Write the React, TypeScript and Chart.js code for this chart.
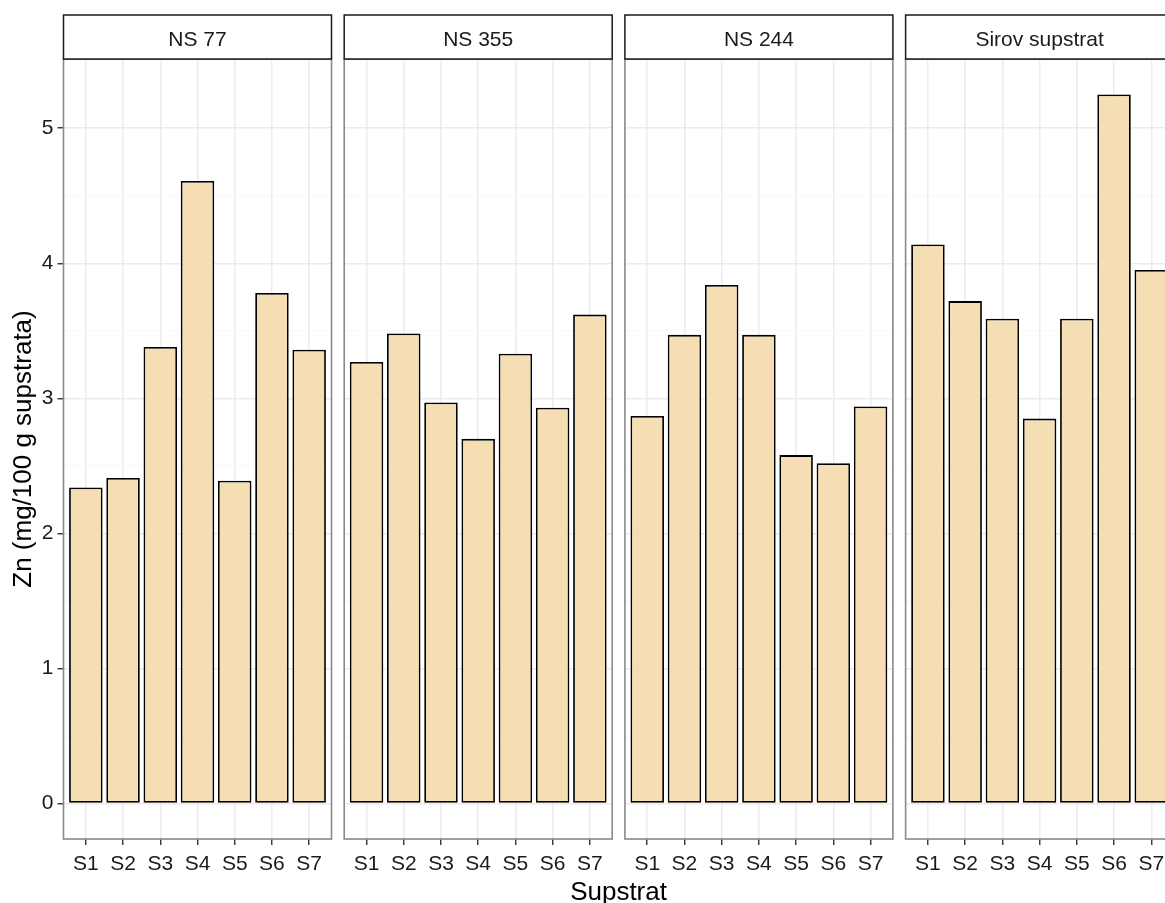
import React, { useEffect, useRef } from "react";
import { Chart, registerables } from "chart.js";

Chart.register(...registerables);

// ---------- data ----------
const categories = ["S1", "S2", "S3", "S4", "S5", "S6", "S7"];
const panelTitles = ["NS 77", "NS 355", "NS 244", "Sirov supstrat"];
const ns77 = [2.34, 2.41, 3.38, 4.61, 2.39, 3.78, 3.36];
const ns355 = [3.27, 3.48, 2.97, 2.7, 3.33, 2.93, 3.62];
const ns244 = [2.87, 3.47, 3.84, 3.47, 2.58, 2.52, 2.94];
const sirovSupstrat = [4.14, 3.72, 3.59, 2.85, 3.59, 5.25, 3.95];
const yMajorTicks = [0, 1, 2, 3, 4, 5];
const yMinorTicks = [0.5, 1.5, 2.5, 3.5, 4.5, 5.5];
const yTitle = "Zn (mg/100 g supstrata)";
const xTitle = "Supstrat";

const panelValues = [ns77, ns355, ns244, sirovSupstrat];

// ---------- layout / style ----------
const W = 1165;
const H = 903;
const FONT = "'Liberation Sans', Arial, Helvetica, sans-serif";
const PANEL_LEFT0 = 63.5;
const PANEL_STEP = 280.7;
const PANEL_W = 268;
const PANEL_TOP = 59;
const PANEL_BOTTOM = 839;
const STRIP_TOP = 15;
const SIDE_PAD = 20;
const Y_AXIS_W = 63.5;
const TEXT_COLOR = "#1a1a1a";

const allValues = [...ns77, ...ns355, ...ns244, ...sirovSupstrat];
const dataMax = Math.max(...allValues);
const yMin = -0.05 * dataMax;
const yMax = dataMax * 1.05;

Chart.defaults.font.family = FONT;

const isMajor = (v: number) => Math.abs(v - Math.round(v)) < 1e-9;

function Panel({ index }: { index: number }) {
  const ref = useRef<HTMLCanvasElement | null>(null);
  const first = index === 0;
  const panelLeft = PANEL_LEFT0 + index * PANEL_STEP;
  const canvasLeft = first ? 0 : Math.floor(panelLeft - SIDE_PAD);
  const padLeft = first ? 0 : panelLeft - canvasLeft;
  const yW = first ? Y_AXIS_W : 0;
  const canvasW = Math.ceil(padLeft + yW + PANEL_W + SIDE_PAD);
  const padRight = canvasW - (padLeft + yW + PANEL_W);

  useEffect(() => {
    if (!ref.current) return;
    const values = panelValues[index];
    const title = panelTitles[index];

    const panelPlugin = {
      id: "panelDeco" + index,
      afterDraw(chart: any) {
        const { ctx, chartArea } = chart;
        const { left, right, top, bottom } = chartArea;
        ctx.save();
        // panel border
        ctx.strokeStyle = "#8a8a8a";
        ctx.lineWidth = 1.6;
        ctx.strokeRect(left, top, right - left, bottom - top);
        // strip
        ctx.fillStyle = "#ffffff";
        ctx.fillRect(left, STRIP_TOP, right - left, top - STRIP_TOP);
        ctx.strokeStyle = "#1a1a1a";
        ctx.lineWidth = 1.5;
        ctx.strokeRect(left, STRIP_TOP, right - left, top - STRIP_TOP);
        ctx.fillStyle = TEXT_COLOR;
        ctx.font = `21px ${FONT}`;
        ctx.textAlign = "center";
        ctx.textBaseline = "middle";
        ctx.fillText(title, (left + right) / 2, (STRIP_TOP + top) / 2 + 3);
        ctx.restore();
      },
    };

    const chart = new Chart(ref.current, {
      type: "bar",
      data: {
        datasets: [
          {
            data: values.map((v, i) => ({ x: i + 1, y: v })),
            backgroundColor: "#F5DEB3",
            borderColor: "#000000",
            borderWidth: 1.8,
            borderSkipped: false,
            barPercentage: 0.9,
            categoryPercentage: 1,
          },
        ],
      },
      options: {
        responsive: false,
        animation: false,
        devicePixelRatio: 1,
        layout: {
          padding: { left: padLeft, right: padRight, top: PANEL_TOP, bottom: 0 },
        },
        plugins: {
          legend: { display: false },
          tooltip: { enabled: false },
        },
        scales: {
          x: {
            type: "linear",
            min: 0.4,
            max: categories.length + 0.6,
            offset: false,
            grid: {
              offset: false,
              color: "#EBEBEB",
              lineWidth: 1.5,
              tickColor: "#333333",
              tickLength: 6,
              tickWidth: 1.4,
            },
            border: { display: false },
            ticks: {
              font: { size: 21 },
              color: TEXT_COLOR,
              padding: 7,
              maxRotation: 0,
              autoSkip: false,
              callback: (value: any) => categories[Math.round(Number(value)) - 1] ?? "",
            },
            afterBuildTicks: (scale: any) => {
              scale.ticks = categories.map((_, i) => ({ value: i + 1 }));
            },
            afterFit: (scale: any) => {
              scale.height = H - PANEL_BOTTOM;
            },
          },
          y: {
            type: "linear",
            min: yMin,
            max: yMax,
            grid: {
              color: (ctx: any) => (ctx.tick && isMajor(ctx.tick.value) ? "#EBEBEB" : "#F6F6F6"),
              lineWidth: (ctx: any) => (ctx.tick && isMajor(ctx.tick.value) ? 1.5 : 0.9),
              tickColor: (ctx: any) =>
                ctx.tick && isMajor(ctx.tick.value) ? "#333333" : "rgba(0,0,0,0)",
              tickLength: 6,
              tickWidth: 1.4,
              drawTicks: first,
            },
            border: { display: false },
            ticks: {
              display: first,
              font: { size: 21 },
              color: TEXT_COLOR,
              padding: 4,
              callback: (value: any) => (isMajor(Number(value)) ? String(Math.round(Number(value))) : ""),
            },
            title: {
              display: first,
              text: yTitle,
              color: "#000000",
              font: { size: 26 },
              padding: { top: 8, bottom: 0 },
            },
            afterBuildTicks: (scale: any) => {
              scale.ticks = [...yMajorTicks, ...yMinorTicks]
                .filter((v) => v >= yMin && v <= yMax)
                .sort((a, b) => a - b)
                .map((v) => ({ value: v }));
            },
            afterFit: (scale: any) => {
              scale.width = yW;
            },
          },
        },
      },
      plugins: [panelPlugin],
    } as any);

    return () => chart.destroy();
  }, [index]);

  return (
    <canvas
      ref={ref}
      width={canvasW}
      height={H}
      style={{ position: "absolute", left: canvasLeft, top: 0, width: canvasW, height: H }}
    />
  );
}

export default function App() {
  const plotLeft = PANEL_LEFT0;
  const plotRight = PANEL_LEFT0 + 3 * PANEL_STEP + PANEL_W;
  return (
    <div
      style={{
        position: "absolute",
        left: 0,
        top: 0,
        width: W,
        height: H,
        overflow: "hidden",
        background: "#ffffff",
      }}
    >
      {panelTitles.map((_, i) => (
        <Panel key={i} index={i} />
      ))}
      <div
        style={{
          position: "absolute",
          left: plotLeft,
          width: plotRight - plotLeft,
          top: 878,
          textAlign: "center",
          fontFamily: FONT,
          fontSize: 26,
          lineHeight: "26px",
          color: "#000000",
          whiteSpace: "nowrap",
        }}
      >
        {xTitle}
      </div>
    </div>
  );
}
